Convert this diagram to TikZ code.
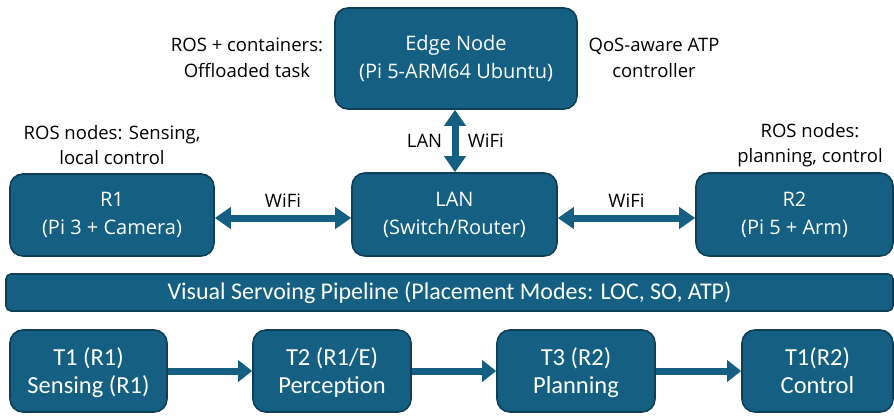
\documentclass[tikz,border=0pt]{standalone}
\usepackage{fontspec}
\setmainfont{Open Sans}
\newfontfamily\narrowfont{Carlito}
\usetikzlibrary{arrows.meta}
\definecolor{boxfill}{HTML}{156082}
\definecolor{boxline}{HTML}{0F3F57}
\begin{document}
\begin{tikzpicture}[x=1pt, y=-1pt,
  hw/.style={draw=boxline, line width=1.6pt, fill=boxfill, text=white, rounded corners=13pt, align=center, font=\fontsize{20}{28}\selectfont},
  task/.style={hw, font=\narrowfont\fontsize{24.5}{28}\selectfont, text depth=0pt, minimum width=157pt, minimum height=82pt},
  note/.style={align=center, font=\fontsize{18.5}{25.5}\selectfont},
  link/.style={boxfill, line width=7pt, {Triangle[width=21pt,length=16pt]}-{Triangle[width=21pt,length=16pt]}},
  flow/.style={boxfill, line width=7pt, -{Triangle[width=21pt,length=14pt]}}]
\useasboundingbox (0,0) rectangle (894,415);
% hardware
\node[hw, minimum width=242pt, minimum height=101pt] (edge) at (456,58.5) {Edge Node\\(Pi 5-ARM64 Ubuntu)};
\node[hw, minimum width=204pt, minimum height=82pt] (r1) at (112,215) {R1\\(Pi 3 + Camera)};
\node[hw, minimum width=205pt, minimum height=83pt] (lan) at (454.5,214.5) {LAN\\(Switch/Router)};
\node[hw, minimum width=197pt, minimum height=83pt] (r2) at (794.5,214.5) {R2\\(Pi 5 + Arm)};
% notes
\node[note] (offload) at (247,58) {ROS + containers:\\Offloaded task};
\node[note] (qos) at (654,58) {QoS-aware ATP\\controller};
\node[note] (r1note) at (112,145) {ROS nodes: Sensing,\\local control};
\node[note] (r2note) at (810,145) {ROS nodes:\\planning, control};
% links
\draw[link] (r1.east |- 0,218) -- (lan.west |- 0,218) node[midway, above=4pt, black, note] {WiFi};
\draw[link] (lan.east |- 0,218) -- (r2.west |- 0,218) node[midway, above=4pt, black, note] {WiFi};
\draw[link] (edge.south -| 455,0) -- (lan.north -| 455,0)
  node[midway, left=6pt, black, note] {LAN}
  node[midway, right=6pt, black, note] {WiFi};
% pipeline
\node[hw, rounded corners=5pt, minimum width=887pt, minimum height=37pt, font=\narrowfont\fontsize{24}{26}\selectfont] (pipe) at (449.5,292.5) {Visual Servoing Pipeline (Placement Modes: LOC, SO, ATP)};
\node[task] (t1) at (88.5,371) {T1 (R1)\\Sensing (R1)};
\node[task, minimum width=158pt] (t2) at (332,371) {T2 (R1/E)\\Perception};
\node[task, minimum width=158pt] (t3) at (576,371) {T3 (R2)\\Planning};
\node[task, minimum width=151pt] (t4) at (817.5,371) {T1(R2)\\Control};
\draw[flow] (t1) -- (t2);
\draw[flow] (t2) -- (t3);
\draw[flow] (t3) -- (t4);
\end{tikzpicture}
\end{document}
